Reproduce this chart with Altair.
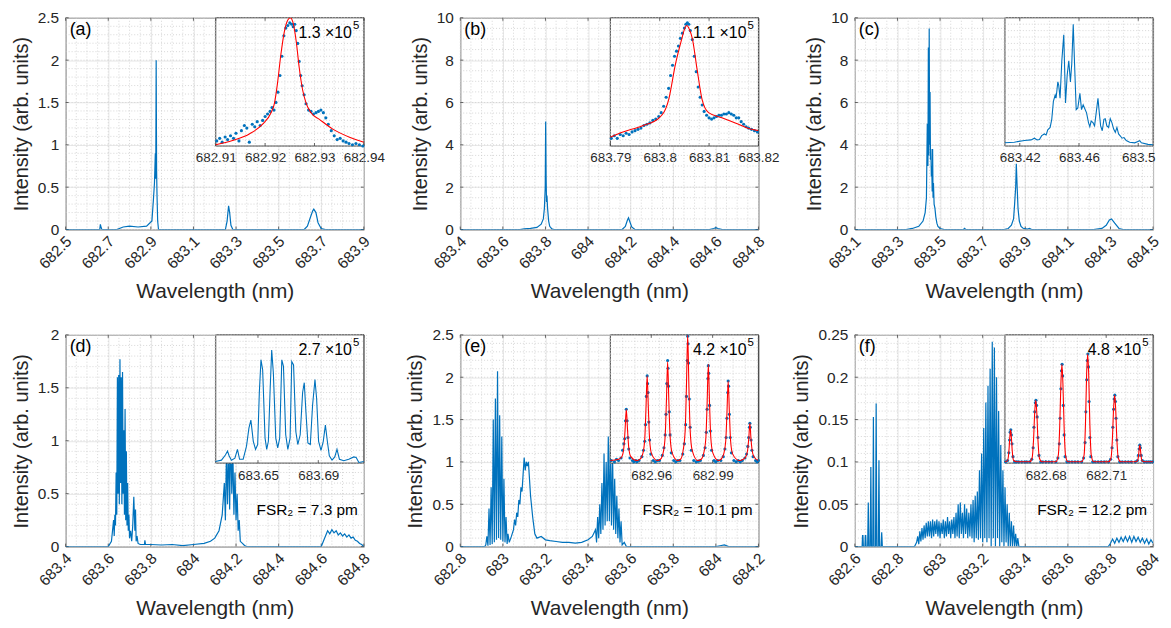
import altair as alt
import numpy as np
import pandas as pd

FONT = "Liberation Sans"
BLUE = "#0072BD"
RED = "#FF0000"
INK = "#262626"
BOX = "#404040"
MAJOR = "#e2e2e2"
MINOR = "#cdcdcd"
W, H = 300, 213
IX0, IY1 = 151, 129
TK = 3

# ---------------- panel (a) ----------------
A_MAIN = [(682.50, 0), (682.66, 0), (682.663, 0.06), (682.667, 0.02), (682.67, 0), (682.74, 0), (682.77, 0.03),
          (682.80, 0.04), (682.84, 0.03), (682.88, 0.04), (682.905, 0.1), (682.912, 0.35), (682.917, 0.55),
          (682.921, 0.9), (682.923, 0.6), (682.925, 2.0), (682.927, 0.7), (682.929, 0.4), (682.932, 0.1),
          (682.936, 0), (683.25, 0), (683.258, 0.1), (683.265, 0.28), (683.27, 0.2), (683.276, 0.05),
          (683.285, 0), (683.62, 0), (683.635, 0.04), (683.65, 0.15), (683.66, 0.22), (683.665, 0.24),
          (683.675, 0.2), (683.685, 0.08), (683.70, 0.01), (683.72, 0), (683.9, 0)]
A_FIT = [(682.9100, 0.010), (682.9134, 0.043), (682.9168, 0.094), (682.9195, 0.170), (682.9212, 0.259),
         (682.9219, 0.335), (682.9225, 0.487), (682.9232, 0.716), (682.9239, 0.893), (682.9246, 0.982),
         (682.9251, 1.000), (682.9256, 0.970), (682.9263, 0.817), (682.9269, 0.614), (682.9276, 0.437),
         (682.9283, 0.335), (682.9293, 0.259), (682.9310, 0.208), (682.9337, 0.132), (682.9371, 0.069),
         (682.9400, 0.030)]
A_PTS = [(682.9102, 0.04), (682.9108, 0.06), (682.9113, 0.03), (682.9119, 0.07), (682.9124, 0.05),
         (682.9130, 0.08), (682.9136, 0.06), (682.9141, 0.10), (682.9147, 0.04), (682.9152, 0.12),
         (682.9158, 0.16), (682.9163, 0.14), (682.9168, 0.03), (682.9174, 0.17), (682.9179, 0.15),
         (682.9184, 0.19), (682.9190, 0.16), (682.9195, 0.20), (682.9200, 0.23), (682.9205, 0.25),
         (682.9210, 0.27), (682.9214, 0.30), (682.9218, 0.28), (682.9222, 0.34), (682.9226, 0.42),
         (682.9230, 0.55), (682.9234, 0.70), (682.9238, 0.86), (682.9242, 0.92), (682.9246, 0.94),
         (682.9250, 0.96), (682.9254, 0.95), (682.9257, 0.93), (682.9260, 0.95), (682.9263, 0.90),
         (682.9266, 0.80), (682.9269, 0.66), (682.9272, 0.55), (682.9275, 0.47), (682.9279, 0.40),
         (682.9283, 0.33), (682.9288, 0.28), (682.9293, 0.27), (682.9298, 0.25), (682.9303, 0.26),
         (682.9308, 0.27), (682.9313, 0.28), (682.9318, 0.26), (682.9323, 0.22), (682.9328, 0.17),
         (682.9334, 0.12), (682.9340, 0.08), (682.9346, 0.05), (682.9352, 0.06), (682.9358, 0.04),
         (682.9364, 0.03), (682.9370, 0.02), (682.9377, 0.01), (682.9384, 0.02), (682.9391, 0.01),
         (682.9398, 0.00)]

# ---------------- panel (b) ----------------
B_MAIN = [(683.4, 0), (683.68, 0), (683.70, 0.03), (683.73, 0.05), (683.76, 0.1), (683.78, 0.25), (683.79, 0.5),
          (683.795, 1.0), (683.799, 2.0), (683.801, 5.1), (683.803, 2.5), (683.805, 1.3), (683.807, 1.6),
          (683.81, 1.0), (683.815, 0.4), (683.82, 0.15), (683.83, 0.03), (683.84, 0), (684.16, 0),
          (684.175, 0.15), (684.185, 0.45), (684.19, 0.55), (684.195, 0.4), (684.205, 0.12), (684.22, 0),
          (684.57, 0), (684.59, 0.05), (684.60, 0.09), (684.61, 0.05), (684.63, 0), (684.8, 0)]
B_FIT = [(683.7900, 0.069), (683.7924, 0.107), (683.7964, 0.157), (683.7999, 0.22), (683.8018, 0.36),
         (683.8032, 0.64), (683.8045, 0.84), (683.8050, 0.91), (683.8055, 0.94), (683.8060, 0.91),
         (683.8066, 0.84), (683.8076, 0.59), (683.8086, 0.36), (683.8099, 0.26), (683.8126, 0.22),
         (683.8153, 0.18), (683.8180, 0.137), (683.8200, 0.12)]
B_PTS = [(683.7902, 0.06), (683.7908, 0.08), (683.7914, 0.06), (683.7920, 0.09), (683.7926, 0.08),
         (683.7932, 0.10), (683.7938, 0.09), (683.7944, 0.11), (683.7950, 0.12), (683.7956, 0.13),
         (683.7962, 0.14), (683.7968, 0.16), (683.7974, 0.17), (683.7980, 0.18), (683.7986, 0.20),
         (683.7992, 0.21), (683.7998, 0.23), (683.8003, 0.26), (683.8008, 0.31), (683.8013, 0.38),
         (683.8018, 0.45), (683.8022, 0.55), (683.8026, 0.63), (683.8030, 0.70), (683.8034, 0.74),
         (683.8038, 0.78), (683.8042, 0.84), (683.8046, 0.88), (683.8050, 0.92), (683.8053, 0.95),
         (683.8056, 0.96), (683.8059, 0.95), (683.8062, 0.90), (683.8066, 0.83), (683.8070, 0.70),
         (683.8074, 0.58), (683.8078, 0.46), (683.8082, 0.38), (683.8086, 0.32), (683.8090, 0.27),
         (683.8095, 0.24), (683.8100, 0.22), (683.8105, 0.21), (683.8110, 0.22), (683.8115, 0.23),
         (683.8120, 0.24), (683.8125, 0.24), (683.8130, 0.25), (683.8135, 0.25), (683.8140, 0.26),
         (683.8145, 0.25), (683.8150, 0.24), (683.8155, 0.22), (683.8160, 0.22), (683.8165, 0.19),
         (683.8170, 0.17), (683.8175, 0.15), (683.8180, 0.14), (683.8186, 0.13), (683.8192, 0.12),
         (683.8198, 0.11)]

# ---------------- panel (c) ----------------
C_MAIN = [(683.1, 0), (683.34, 0), (683.37, 0.05), (683.40, 0.15), (683.42, 0.4), (683.43, 0.8), (683.436, 1.5),
          (683.440, 5.0), (683.443, 3.0), (683.445, 8.6), (683.447, 3.5), (683.449, 9.5), (683.451, 4.0),
          (683.453, 6.5), (683.455, 3.3), (683.457, 3.8), (683.459, 2.5), (683.461, 3.0), (683.463, 1.8),
          (683.465, 3.8), (683.467, 1.5), (683.469, 2.2), (683.472, 1.2), (683.476, 1.0), (683.480, 0.6),
          (683.485, 0.3), (683.49, 0.15), (683.50, 0.05), (683.52, 0), (683.61, 0), (683.615, 0.05),
          (683.62, 0), (683.80, 0), (683.82, 0.05), (683.835, 0.2), (683.845, 0.5), (683.85, 1.2),
          (683.855, 2.0), (683.858, 3.1), (683.862, 2.0), (683.866, 1.0), (683.872, 0.4), (683.88, 0.15),
          (683.89, 0.06), (683.91, 0.02), (683.92, 0.05), (683.93, 0), (684.22, 0), (684.26, 0.05),
          (684.28, 0.2), (684.295, 0.45), (684.305, 0.5), (684.32, 0.3), (684.34, 0.05), (684.36, 0), (684.5, 0)]
C_ILINE = [(683.4100, 0.025), (683.4163, 0.030), (683.4231, 0.043), (683.4276, 0.048), (683.4299, 0.061),
           (683.4317, 0.048), (683.4333, 0.051), (683.4348, 0.081), (683.4366, 0.094), (683.4378, 0.086),
           (683.4389, 0.127), (683.4405, 0.145), (683.4416, 0.208), (683.4427, 0.348), (683.4439, 0.398),
           (683.4445, 0.373), (683.4457, 0.500), (683.4463, 0.475), (683.4472, 0.373), (683.4484, 0.665),
           (683.4497, 0.868), (683.4509, 0.335), (683.4520, 0.551), (683.4531, 0.665), (683.4542, 0.500),
           (683.4551, 0.640), (683.4561, 0.949), (683.4570, 0.640), (683.4581, 0.284), (683.4592, 0.297),
           (683.4606, 0.411), (683.4617, 0.284), (683.4628, 0.322), (683.4637, 0.297), (683.4651, 0.259),
           (683.4664, 0.183), (683.4673, 0.150), (683.4682, 0.195), (683.4694, 0.183), (683.4705, 0.157),
           (683.4716, 0.259), (683.4728, 0.373), (683.4737, 0.259), (683.4746, 0.157), (683.4757, 0.119),
           (683.4768, 0.208), (683.4777, 0.213), (683.4788, 0.157), (683.4800, 0.145), (683.4811, 0.213),
           (683.4822, 0.183), (683.4834, 0.132), (683.4845, 0.107), (683.4856, 0.145), (683.4867, 0.094),
           (683.4881, 0.076), (683.4890, 0.061), (683.4904, 0.066), (683.4919, 0.043), (683.4942, 0.030),
           (683.4976, 0.025), (683.4998, 0.036), (683.5010, 0.041), (683.5021, 0.025), (683.5066, 0.013),
           (683.5100, 0.010)]

# ---------------- panel (d) ----------------
D_MAIN = [(683.4, 0), (683.60, 0), (683.615, 0.05), (683.62, 0.15), (683.625, 0.25), (683.628, 0.1),
          (683.631, 0.3), (683.634, 0.2), (683.637, 0.7), (683.640, 0.3), (683.643, 1.6), (683.646, 0.5),
          (683.649, 1.62), (683.652, 0.4), (683.655, 1.77), (683.658, 0.6), (683.661, 1.6), (683.664, 0.4),
          (683.667, 1.65), (683.670, 0.5), (683.673, 1.1), (683.676, 0.3), (683.679, 1.3), (683.682, 0.25),
          (683.685, 0.9), (683.688, 0.2), (683.691, 0.6), (683.694, 0.15), (683.697, 0.3), (683.700, 0.08),
          (683.705, 0.15), (683.71, 0.05), (683.715, 0.2), (683.72, 0.47), (683.725, 0.15), (683.728, 0.35),
          (683.731, 0.05), (683.735, 0.1), (683.74, 0.03), (683.75, 0.02), (683.77, 0.02), (683.772, 0.06),
          (683.775, 0.02), (683.80, 0.02), (683.85, 0.015), (683.90, 0.02), (683.95, 0.01), (684.00, 0.02),
          (684.05, 0.03), (684.08, 0.05), (684.10, 0.08), (684.12, 0.15), (684.135, 0.3), (684.145, 0.6),
          (684.15, 0.25), (684.155, 0.9), (684.16, 0.4), (684.165, 1.0), (684.17, 0.35), (684.175, 1.1),
          (684.18, 0.5), (684.185, 0.9), (684.19, 0.3), (684.195, 0.7), (684.20, 0.25), (684.205, 0.5),
          (684.21, 0.15), (684.215, 0.25), (684.22, 0.05), (684.23, 0.03), (684.24, 0.01), (684.25, 0),
          (684.6, 0), (684.61, 0.05), (684.62, 0.1), (684.63, 0.15), (684.64, 0.12), (684.65, 0.16),
          (684.66, 0.13), (684.67, 0.15), (684.68, 0.11), (684.69, 0.13), (684.70, 0.10), (684.71, 0.12),
          (684.72, 0.09), (684.73, 0.11), (684.74, 0.08), (684.75, 0.09), (684.76, 0.06), (684.77, 0.05),
          (684.78, 0.03), (684.79, 0.02), (684.8, 0)]
D_ILINE = [(683.6218, 0.013), (683.6258, 0.023), (683.6284, 0.063), (683.6298, 0.094), (683.6309, 0.056),
           (683.6324, 0.023), (683.6347, 0.038), (683.6364, 0.107), (683.6378, 0.030), (683.6402, 0.030),
           (683.6424, 0.132), (683.6440, 0.272), (683.6453, 0.335), (683.6469, 0.170), (683.6484, 0.107),
           (683.6498, 0.145), (683.6509, 0.551), (683.6520, 0.805), (683.6531, 0.728), (683.6547, 0.195),
           (683.6558, 0.107), (683.6569, 0.170), (683.6580, 0.551), (683.6591, 0.881), (683.6602, 0.703),
           (683.6618, 0.195), (683.6631, 0.119), (683.6644, 0.195), (683.6658, 0.805), (683.6669, 0.754),
           (683.6684, 0.221), (683.6698, 0.107), (683.6713, 0.195), (683.6724, 0.792), (683.6736, 0.766),
           (683.6751, 0.246), (683.6764, 0.145), (683.6780, 0.221), (683.6796, 0.551), (683.6807, 0.627),
           (683.6818, 0.398), (683.6831, 0.157), (683.6847, 0.145), (683.6862, 0.450), (683.6878, 0.652),
           (683.6889, 0.500), (683.6902, 0.170), (683.6918, 0.099), (683.6933, 0.170), (683.6947, 0.297),
           (683.6960, 0.170), (683.6973, 0.056), (683.6991, 0.023), (683.7009, 0.048), (683.7024, 0.107),
           (683.7040, 0.030), (683.7069, 0.018), (683.7102, 0.030), (683.7136, 0.048), (683.7151, 0.043),
           (683.7169, 0.005), (683.7202, 0.013)]

# ---------------- panel (e) ----------------
E_MAIN = [(682.8, 0), (682.915, 0), (682.920, 0.02), (682.925, 0.12), (682.930, 0.01), (682.935, 0.45),
          (682.940, 0.02), (682.945, 0.7), (682.950, 0.03), (682.955, 1.5), (682.960, 0.05), (682.965, 1.75),
          (682.970, 0.08), (682.975, 2.07), (682.980, 0.1), (682.985, 1.55), (682.990, 0.08), (682.995, 1.3),
          (683.000, 0.06), (683.005, 0.8), (683.010, 0.05), (683.015, 0.35), (683.020, 0.03), (683.024, 0.15),
          (683.03, 0.05), (683.04, 0.12), (683.05, 0.2), (683.055, 0.32), (683.06, 0.25), (683.065, 0.4),
          (683.07, 0.35), (683.075, 0.55), (683.08, 0.5), (683.085, 0.7), (683.09, 0.65), (683.095, 0.85),
          (683.10, 1.05), (683.105, 0.9), (683.11, 1.0), (683.115, 0.95), (683.12, 1.0), (683.125, 0.8),
          (683.13, 0.6), (683.14, 0.35), (683.15, 0.15), (683.16, 0.1), (683.18, 0.12), (683.20, 0.08),
          (683.22, 0.07), (683.25, 0.06), (683.28, 0.05), (683.31, 0.05), (683.34, 0.04), (683.37, 0.05),
          (683.40, 0.08), (683.42, 0.12), (683.435, 0.2), (683.44, 0.05), (683.445, 0.35), (683.45, 0.1),
          (683.455, 0.5), (683.46, 0.15), (683.465, 0.75), (683.47, 0.2), (683.475, 1.1), (683.48, 0.25),
          (683.485, 1.0), (683.49, 0.3), (683.495, 1.3), (683.50, 0.3), (683.505, 1.2), (683.51, 0.25),
          (683.515, 1.1), (683.52, 0.2), (683.525, 0.8), (683.53, 0.15), (683.535, 0.6), (683.54, 0.1),
          (683.545, 0.45), (683.55, 0.05), (683.555, 0.3), (683.56, 0.02), (683.57, 0.05), (683.58, 0),
          (684.0, 0), (684.02, 0.01), (684.04, 0.02), (684.06, 0), (684.2, 0)]
E_FIT = [(682.9400, 0.02), (682.9440, 0.03), (682.9456, 0.05), (682.9466, 0.12), (682.9472, 0.26),
         (682.9478, 0.42), (682.9484, 0.26), (682.9490, 0.12), (682.9500, 0.05), (682.9528, 0.02),
         (682.9545, 0.03), (682.9558, 0.07), (682.9568, 0.18), (682.9574, 0.42), (682.9580, 0.68),
         (682.9586, 0.42), (682.9592, 0.18), (682.9602, 0.07), (682.9630, 0.02), (682.9645, 0.03),
         (682.9658, 0.08), (682.9668, 0.21), (682.9674, 0.48), (682.9680, 0.79), (682.9686, 0.48),
         (682.9692, 0.21), (682.9702, 0.08), (682.9729, 0.02), (682.9743, 0.03), (682.9756, 0.10),
         (682.9766, 0.26), (682.9772, 0.60), (682.9778, 1.00), (682.9784, 0.60), (682.9790, 0.26),
         (682.9800, 0.10), (682.9828, 0.02), (682.9844, 0.03), (682.9857, 0.08), (682.9867, 0.20),
         (682.9873, 0.46), (682.9879, 0.77), (682.9885, 0.46), (682.9891, 0.20), (682.9901, 0.08),
         (682.9928, 0.02), (682.9941, 0.03), (682.9954, 0.07), (682.9964, 0.17), (682.9970, 0.39),
         (682.9976, 0.64), (682.9982, 0.39), (682.9988, 0.17), (682.9998, 0.07), (683.0030, 0.02),
         (683.0050, 0.03), (683.0062, 0.05), (683.0071, 0.10), (683.0077, 0.20), (683.0082, 0.31),
         (683.0087, 0.20), (683.0093, 0.10), (683.0102, 0.05), (683.0124, 0.02)]
E_PTS = [(682.9405, 0.02), (682.9420, 0.01), (682.9430, 0.03), (682.9440, 0.02), (682.9452, 0.04),
         (682.9460, 0.10), (682.9466, 0.15), (682.9470, 0.19), (682.9474, 0.33), (682.9478, 0.42),
         (682.9482, 0.33), (682.9486, 0.20), (682.9490, 0.11), (682.9496, 0.04), (682.9508, 0.02),
         (682.9515, 0.01), (682.9525, 0.02), (682.9530, 0.01), (682.9540, 0.02), (682.9554, 0.05),
         (682.9562, 0.10), (682.9568, 0.17), (682.9572, 0.30), (682.9576, 0.52), (682.9580, 0.68),
         (682.9582, 0.62), (682.9584, 0.55), (682.9588, 0.32), (682.9592, 0.18), (682.9598, 0.07),
         (682.9610, 0.02), (682.9620, 0.01), (682.9630, 0.02), (682.9640, 0.02), (682.9654, 0.06),
         (682.9662, 0.12), (682.9668, 0.22), (682.9672, 0.38), (682.9676, 0.62), (682.9680, 0.80),
         (682.9682, 0.74), (682.9684, 0.60), (682.9688, 0.40), (682.9692, 0.22), (682.9698, 0.08),
         (682.9710, 0.02), (682.9720, 0.01), (682.9730, 0.02), (682.9740, 0.02), (682.9754, 0.07),
         (682.9762, 0.15), (682.9768, 0.30), (682.9772, 0.52), (682.9776, 0.80), (682.9778, 0.99),
         (682.9780, 0.93), (682.9782, 0.78), (682.9786, 0.50), (682.9790, 0.28), (682.9796, 0.10),
         (682.9808, 0.02), (682.9820, 0.01), (682.9830, 0.015), (682.9840, 0.02), (682.9855, 0.06),
         (682.9863, 0.12), (682.9869, 0.24), (682.9873, 0.42), (682.9877, 0.66), (682.9879, 0.76),
         (682.9881, 0.70), (682.9885, 0.45), (682.9889, 0.25), (682.9895, 0.10), (682.9907, 0.02),
         (682.9915, 0.01), (682.9925, 0.02), (682.9940, 0.02), (682.9952, 0.05), (682.9960, 0.11),
         (682.9966, 0.20), (682.9970, 0.35), (682.9974, 0.55), (682.9976, 0.64), (682.9978, 0.60),
         (682.9982, 0.38), (682.9986, 0.20), (682.9992, 0.08), (683.0004, 0.02), (683.0015, 0.01),
         (683.0025, 0.02), (683.0035, 0.01), (683.0045, 0.02), (683.0058, 0.04), (683.0066, 0.07),
         (683.0072, 0.13), (683.0076, 0.20), (683.0080, 0.28), (683.0082, 0.31), (683.0084, 0.28),
         (683.0088, 0.18), (683.0092, 0.10), (683.0098, 0.05), (683.0110, 0.02), (683.0117, 0.01),
         (683.0124, 0.02)]

# ---------------- panel (f) ----------------
F_MAIN = [(682.6, 0), (682.634, 0), (682.636, 0.013), (682.638, 0.013), (682.640, 0), (682.647, 0),
          (682.649, 0.013), (682.651, 0.013), (682.653, 0), (682.660, 0), (682.663, 0.052), (682.666, 0),
          (682.672, 0), (682.675, 0.094), (682.678, 0), (682.684, 0), (682.687, 0.153), (682.690, 0),
          (682.697, 0), (682.700, 0.169), (682.703, 0), (682.710, 0), (682.713, 0.102), (682.716, 0),
          (682.723, 0), (682.726, 0.017), (682.729, 0), (682.88, 0), (682.89, 0.005), (682.895, 0.012),
          (682.90, 0.003), (682.905, 0.018), (682.91, 0.006), (682.915, 0.022), (682.92, 0.008),
          (682.925, 0.025), (682.93, 0.01), (682.935, 0.028), (682.94, 0.012), (682.945, 0.03),
          (682.95, 0.012), (682.955, 0.03), (682.96, 0.01), (682.965, 0.032), (682.97, 0.012),
          (682.975, 0.03), (682.98, 0.015), (682.985, 0.032), (682.99, 0.012), (682.995, 0.03),
          (683.0, 0.01), (683.005, 0.028), (683.01, 0.015), (683.015, 0.032), (683.02, 0.01),
          (683.025, 0.03), (683.03, 0.012), (683.035, 0.035), (683.04, 0.015), (683.045, 0.03),
          (683.05, 0.01), (683.055, 0.032), (683.06, 0.015), (683.065, 0.035), (683.07, 0.01),
          (683.075, 0.04), (683.08, 0.012), (683.085, 0.05), (683.09, 0.01), (683.095, 0.052),
          (683.10, 0.015), (683.105, 0.04), (683.11, 0.01), (683.115, 0.05), (683.12, 0.015),
          (683.125, 0.045), (683.13, 0.01), (683.135, 0.04), (683.14, 0.012), (683.145, 0.05),
          (683.15, 0.01), (683.155, 0.055), (683.16, 0.005), (683.165, 0.06), (683.17, 0.01),
          (683.175, 0.065), (683.18, 0.008), (683.185, 0.09), (683.19, 0.01), (683.195, 0.11),
          (683.20, 0.005), (683.205, 0.14), (683.21, 0.01), (683.215, 0.17), (683.22, 0.005),
          (683.225, 0.19), (683.23, 0.01), (683.235, 0.21), (683.24, 0.0), (683.245, 0.242),
          (683.25, 0.01), (683.255, 0.235), (683.26, 0.0), (683.265, 0.2), (683.27, 0.01),
          (683.275, 0.16), (683.28, 0.0), (683.285, 0.12), (683.29, 0.005), (683.295, 0.09),
          (683.30, 0.0), (683.305, 0.07), (683.31, 0.005), (683.315, 0.05), (683.32, 0.0),
          (683.325, 0.04), (683.33, 0.0), (683.335, 0.03), (683.34, 0.0), (683.345, 0.025),
          (683.35, 0), (683.355, 0.015), (683.36, 0.0), (683.365, 0.01), (683.37, 0), (683.38, 0),
          (683.79, 0), (683.80, 0.004), (683.81, 0.009), (683.82, 0.004), (683.83, 0.01), (683.84, 0.005),
          (683.85, 0.011), (683.86, 0.006), (683.87, 0.012), (683.88, 0.006), (683.89, 0.012),
          (683.90, 0.005), (683.91, 0.012), (683.92, 0.006), (683.93, 0.011), (683.94, 0.005),
          (683.95, 0.01), (683.96, 0.004), (683.97, 0.009), (683.98, 0.003), (683.99, 0.008), (684.0, 0.004)]
F_FIT = [(682.6597, 0.01), (682.6610, 0.02), (682.6617, 0.10), (682.6621, 0.20), (682.6625, 0.26),
         (682.6629, 0.20), (682.6633, 0.10), (682.6640, 0.02), (682.6655, 0.01), (682.6720, 0.01),
         (682.6732, 0.04), (682.6739, 0.18), (682.6745, 0.40), (682.6750, 0.49), (682.6755, 0.40),
         (682.6761, 0.18), (682.6768, 0.04), (682.6780, 0.01), (682.6850, 0.01), (682.6862, 0.06),
         (682.6869, 0.28), (682.6875, 0.62), (682.6880, 0.77), (682.6885, 0.62), (682.6891, 0.28),
         (682.6898, 0.06), (682.6910, 0.01), (682.6978, 0.01), (682.6990, 0.06), (682.6997, 0.30),
         (682.7003, 0.70), (682.7008, 0.85), (682.7013, 0.70), (682.7019, 0.30), (682.7026, 0.06),
         (682.7038, 0.01), (682.7112, 0.01), (682.7124, 0.04), (682.7131, 0.19), (682.7137, 0.43),
         (682.7142, 0.53), (682.7147, 0.43), (682.7153, 0.19), (682.7160, 0.04), (682.7172, 0.01),
         (682.7245, 0.01), (682.7256, 0.02), (682.7261, 0.06), (682.7264, 0.11), (682.7267, 0.14),
         (682.7270, 0.11), (682.7273, 0.06), (682.7278, 0.02), (682.7290, 0.01), (682.7333, 0.01)]
F_PTS = [(682.6600, 0.01), (682.6610, 0.02), (682.6616, 0.08), (682.6620, 0.18), (682.6623, 0.24),
         (682.6626, 0.26), (682.6629, 0.22), (682.6632, 0.15), (682.6637, 0.05), (682.6645, 0.01),
         (682.6655, 0.01), (682.6665, 0.01), (682.6680, 0.01), (682.6695, 0.01), (682.6705, 0.01),
         (682.6720, 0.01), (682.6730, 0.03), (682.6737, 0.12), (682.6741, 0.28), (682.6745, 0.40),
         (682.6748, 0.47), (682.6751, 0.49), (682.6754, 0.45), (682.6757, 0.36), (682.6761, 0.20),
         (682.6766, 0.06), (682.6775, 0.01), (682.6785, 0.01), (682.6800, 0.01), (682.6815, 0.01),
         (682.6830, 0.01), (682.6850, 0.01), (682.6860, 0.04), (682.6867, 0.15), (682.6871, 0.35),
         (682.6875, 0.58), (682.6878, 0.72), (682.6881, 0.77), (682.6884, 0.68), (682.6887, 0.45),
         (682.6891, 0.22), (682.6896, 0.05), (682.6905, 0.01), (682.6915, 0.01), (682.6930, 0.01),
         (682.6945, 0.01), (682.6960, 0.01), (682.6978, 0.01), (682.6988, 0.04), (682.6995, 0.16),
         (682.6999, 0.40), (682.7003, 0.65), (682.7006, 0.80), (682.7009, 0.85), (682.7012, 0.75),
         (682.7015, 0.48), (682.7019, 0.20), (682.7024, 0.05), (682.7033, 0.01), (682.7045, 0.01),
         (682.7060, 0.01), (682.7075, 0.01), (682.7090, 0.01), (682.7112, 0.01), (682.7122, 0.03),
         (682.7129, 0.12), (682.7133, 0.28), (682.7137, 0.42), (682.7140, 0.50), (682.7143, 0.53),
         (682.7146, 0.48), (682.7149, 0.35), (682.7153, 0.18), (682.7158, 0.05), (682.7167, 0.01),
         (682.7180, 0.01), (682.7195, 0.01), (682.7210, 0.01), (682.7225, 0.01), (682.7245, 0.01),
         (682.7255, 0.02), (682.7260, 0.06), (682.7264, 0.11), (682.7267, 0.14), (682.7270, 0.12),
         (682.7274, 0.06), (682.7280, 0.02), (682.7290, 0.01), (682.7300, 0.01), (682.7310, 0.01),
         (682.7320, 0.01), (682.7330, 0.01)]

PANELS = [
    dict(letter="(a)", main=A_MAIN, xdom=[682.5, 683.9],
         xticks=[682.5, 682.7, 682.9, 683.1, 683.3, 683.5, 683.7, 683.9], xminor=0.05,
         ydom=[0, 2.5], yticks=[0, 0.5, 1, 1.5, 2, 2.5], yminor=0.1,
         idom=[682.91, 682.94], iticks=[682.91, 682.92, 682.93, 682.94], iminor=0.002,
         ipts=A_PTS, ifit=A_FIT, iline=None, mult="1.3 ×10", fsr=None),
    dict(letter="(b)", main=B_MAIN, xdom=[683.4, 684.8],
         xticks=[683.4, 683.6, 683.8, 684.0, 684.2, 684.4, 684.6, 684.8], xminor=0.05,
         ydom=[0, 10], yticks=[0, 2, 4, 6, 8, 10], yminor=0.5,
         idom=[683.79, 683.82], iticks=[683.79, 683.80, 683.81, 683.82], iminor=0.002,
         ipts=B_PTS, ifit=B_FIT, iline=None, mult="1.1 ×10", fsr=None),
    dict(letter="(c)", main=C_MAIN, xdom=[683.1, 684.5],
         xticks=[683.1, 683.3, 683.5, 683.7, 683.9, 684.1, 684.3, 684.5], xminor=0.05,
         ydom=[0, 10], yticks=[0, 2, 4, 6, 8, 10], yminor=0.5,
         idom=[683.41, 683.51], iticks=[683.42, 683.46, 683.50], iminor=0.01,
         ipts=None, ifit=None, iline=C_ILINE, mult=None, fsr=None),
    dict(letter="(d)", main=D_MAIN, xdom=[683.4, 684.8],
         xticks=[683.4, 683.6, 683.8, 684.0, 684.2, 684.4, 684.6, 684.8], xminor=0.05,
         ydom=[0, 2], yticks=[0, 0.5, 1, 1.5, 2], yminor=0.1,
         idom=[683.622, 683.7202], iticks=[683.65, 683.69], iminor=0.01,
         ipts=None, ifit=None, iline=D_ILINE, mult="2.7 ×10", fsr="FSR₂ = 7.3 pm"),
    dict(letter="(e)", main=E_MAIN, xdom=[682.8, 684.2],
         xticks=[682.8, 683.0, 683.2, 683.4, 683.6, 683.8, 684.0, 684.2], xminor=0.05,
         ydom=[0, 2.5], yticks=[0, 0.5, 1, 1.5, 2, 2.5], yminor=0.1,
         idom=[682.940, 683.0124], iticks=[682.96, 682.99], iminor=0.006,
         ipts=E_PTS, ifit=E_FIT, iline=None, mult="4.2 ×10", fsr="FSR₂ = 10.1 pm"),
    dict(letter="(f)", main=F_MAIN, xdom=[682.6, 684.0],
         xticks=[682.6, 682.8, 683.0, 683.2, 683.4, 683.6, 683.8, 684.0], xminor=0.05,
         ydom=[0, 0.25], yticks=[0, 0.05, 0.1, 0.15, 0.2, 0.25], yminor=0.01,
         idom=[682.6597, 682.7333], iticks=[682.68, 682.71], iminor=0.006,
         ipts=F_PTS, ifit=F_FIT, iline=None, mult="4.8 ×10", fsr="FSR₂ = 12.2 pm"),
]
EXPONENT = "5"


def grid_steps(lo, hi, step):
    return list(np.round(np.arange(lo, hi + step * 0.5, step), 6))


def vrules(vals, scale, y0, y1, color, width, dash=None, axis=None):
    kw = dict(color=color, strokeWidth=width)
    if dash:
        kw["strokeDash"] = dash
    return alt.Chart(pd.DataFrame({"v": vals})).mark_rule(**kw).encode(
        x=alt.X("v:Q", scale=scale, axis=axis), y=alt.value(y0), y2=alt.value(y1))


def hrules(vals, scale, x0, x1, color, width, dash=None):
    kw = dict(color=color, strokeWidth=width)
    if dash:
        kw["strokeDash"] = dash
    return alt.Chart(pd.DataFrame({"v": vals})).mark_rule(**kw).encode(
        y=alt.Y("v:Q", scale=scale, axis=None), x=alt.value(x0), x2=alt.value(x1))


def label(text, x, y, size, align):
    return alt.Chart(pd.DataFrame({"k": [0]})).mark_text(
        align=align, baseline="middle", fontSize=size, color="black", font=FONT
    ).encode(x=alt.value(x), y=alt.value(y), text=alt.value(text))


def make_panel(p):
    xs = alt.Scale(domain=p["xdom"], nice=False, zero=False)
    ys = alt.Scale(domain=p["ydom"], nice=False, zero=False)
    xaxis = alt.Axis(values=p["xticks"], format=".4~r", title="Wavelength (nm)", labelAngle=-45,
                     labelAlign="right", labelBaseline="middle", labelPadding=9, labelOffset=3,
                     labelFlush=False, labelOverlap=False, grid=True, ticks=False, domain=False,
                     titlePadding=9, titleFontSize=21)
    yaxis = alt.Axis(values=p["yticks"], format="~r", title="Intensity (arb. units)", grid=True,
                     ticks=False, domain=False, labelPadding=7, titlePadding=6, labelFlush=False,
                     labelOverlap=False, titleFontSize=20)
    mdf = pd.DataFrame(p["main"], columns=["x", "y"])
    gx = vrules(grid_steps(p["xdom"][0], p["xdom"][1], p["xminor"]), xs, 0, H, MINOR, 0.8, [1, 2])
    gy = hrules(grid_steps(p["ydom"][0], p["ydom"][1], p["yminor"]), ys, 0, W, MINOR, 0.8, [1, 2])
    tb = vrules(p["xticks"], xs, H - TK, H, BOX, 0.8)
    tt = vrules(p["xticks"], xs, 0, TK, BOX, 0.8)
    tl = hrules(p["yticks"], ys, 0, TK, BOX, 0.8)
    tr = hrules(p["yticks"], ys, W - TK, W, BOX, 0.8)
    line = alt.Chart(mdf).mark_line(color=BLUE, strokeWidth=1.2, clip=True).encode(
        x=alt.X("x:Q", scale=xs, axis=xaxis), y=alt.Y("y:Q", scale=ys, axis=yaxis))

    isx = alt.Scale(domain=p["idom"], range=[IX0, W], nice=False, zero=False)
    isy = alt.Scale(domain=[0, 1], range=[IY1, 0], nice=False, zero=False)
    iaxis = alt.Axis(values=p["iticks"], format=".5~r", orient="bottom", offset=-(H - IY1), title=None,
                     grid=False, ticks=False, domain=False, labelAngle=0, labelAlign="center",
                     labelBaseline="top", labelFontSize=13.5, labelPadding=5, labelFlush=False,
                     labelOverlap=False)
    bg = alt.Chart(pd.DataFrame({"k": [0]})).mark_rect(fill="white", stroke=BOX, strokeWidth=1).encode(
        x=alt.value(IX0), x2=alt.value(W), y=alt.value(0), y2=alt.value(IY1))
    igx = vrules(grid_steps(p["idom"][0], p["idom"][1], p["iminor"]), isx, 0, IY1, MINOR, 0.8, [1, 2],
                 axis=iaxis)
    igy = hrules(grid_steps(0, 1, 0.05), isy, IX0, W, MINOR, 0.8, [1, 2])
    itb = vrules(p["iticks"], isx, IY1 - TK, IY1, BOX, 0.8)
    itt = vrules(p["iticks"], isx, 0, TK, BOX, 0.8)
    layers = [gx, gy, tb, tt, tl, tr, line, bg, igx, igy, itb, itt]
    if p["iline"]:
        layers.append(alt.Chart(pd.DataFrame(p["iline"], columns=["ix", "iy"])).mark_line(
            color=BLUE, strokeWidth=1.1, clip=True).encode(
            x=alt.X("ix:Q", scale=isx, axis=None), y=alt.Y("iy:Q", scale=isy, axis=None)))
    if p["ipts"]:
        layers.append(alt.Chart(pd.DataFrame(p["ipts"], columns=["ix", "iy"])).mark_circle(
            color=BLUE, size=10, opacity=1).encode(
            x=alt.X("ix:Q", scale=isx, axis=None), y=alt.Y("iy:Q", scale=isy, axis=None)))
    if p["ifit"]:
        layers.append(alt.Chart(pd.DataFrame(p["ifit"], columns=["ix", "iy"])).mark_line(
            color=RED, strokeWidth=1.1, interpolate="monotone", clip=True).encode(
            x=alt.X("ix:Q", scale=isx, axis=None), y=alt.Y("iy:Q", scale=isy, axis=None)))
    layers.append(label(p["letter"], 4, 12, 18, "left"))
    if p["mult"]:
        layers.append(label(p["mult"], 288, 15, 16, "right"))
        layers.append(label(EXPONENT, 289, 8, 11.5, "left"))
    if p["fsr"]:
        layers.append(label(p["fsr"], 294, 176, 15.5, "right"))
    return alt.layer(*layers).resolve_scale(x="independent", y="independent").resolve_axis(
        x="independent", y="independent").properties(width=W, height=H)


charts = [make_panel(p) for p in PANELS]
chart = alt.concat(*charts, columns=3, spacing={"row": 106, "column": 97}, bounds="flush").properties(
    padding={"left": 2, "top": 0, "right": 0, "bottom": 0}
).configure_view(stroke=BOX, strokeWidth=1).configure_axis(
    labelFont=FONT, titleFont=FONT, labelFontSize=15.5, titleFontWeight="normal",
    labelColor=INK, titleColor=INK, gridColor=MAJOR, gridWidth=0.8
).configure_text(font=FONT)

chart.save("out.html", embed_options={"renderer": "svg", "actions": False})
